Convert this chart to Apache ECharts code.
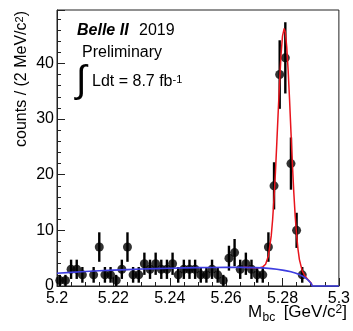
<!DOCTYPE html>
<html><head><meta charset="utf-8">
<script src="https://cdn.jsdelivr.net/npm/echarts@6/dist/echarts.min.js"></script>
<style>html,body{margin:0;padding:0;background:#fff}#c{width:353px;height:331px}</style>
</head><body><div id="c"></div>
<script>
// Histogram bin centers (GeV/c^2), 2 MeV bins
const binCenters = [5.201,5.203,5.205,5.207,5.209,5.211,5.213,5.215,5.217,5.219,
  5.221,5.223,5.225,5.227,5.229,5.231,5.233,5.235,5.237,5.239,
  5.241,5.243,5.245,5.247,5.249,5.251,5.253,5.255,5.257,5.259,
  5.261,5.263,5.265,5.267,5.269,5.271,5.273,5.275,5.277,5.279,
  5.281,5.283,5.285,5.287];
const counts = [1,1,3,3,2,null,2,7,2,2,
  1,3,7,2,2,4,3,4,3,3,
  4,2,3,3,3,2,2,3,2,1,
  5,6,3,4,3,2,2,7,18,38,
  41,22,10,2];
const errors = [1,1,1.73,1.73,1.41,null,1.41,2.65,1.41,1.41,
  1,1.73,2.65,1.41,1.41,2,1.73,2,1.73,1.73,
  2,1.41,1.73,1.73,1.73,1.41,1.41,1.73,1.41,1,
  2.24,2.45,1.73,2,1.73,1.41,1.41,2.65,4.24,6.16,
  6.4,4.69,3.16,1.41];
// Total fit (red)
const fitX = [5.266,5.270,5.272,5.273,5.274,5.275,5.276,5.2765,5.277,5.2775,5.278,5.2785,5.279,5.2795,5.280,5.2806,
  5.281,5.2815,5.282,5.2825,5.283,5.2835,5.284,5.2845,5.285,5.2855,5.286,5.287,5.288,5.289,5.2902,5.2905];
const fitY = [3.35,3.3,3.29,3.44,3.91,5.4,9.0,11.95,15.85,20.5,25.95,31.6,37.0,41.7,44.9,46.3,
  45.6,43.0,38.8,33.5,27.7,22.0,16.9,12.55,9.2,6.6,4.74,2.71,1.75,1.16,0.5,0];
// Background (blue)
const bkgX = [5.200,5.205,5.210,5.215,5.220,5.225,5.230,5.235,5.240,5.245,5.250,5.255,5.260,5.265,5.270,
  5.273,5.276,5.278,5.280,5.2815,5.283,5.2845,5.286,5.287,5.288,5.289,5.2897,5.2902,5.2905,5.300];
const bkgY = [2.3,2.45,2.6,2.73,2.85,2.95,3.05,3.13,3.2,3.25,3.3,3.33,3.35,3.35,3.3,
  3.25,3.12,3.0,2.85,2.72,2.55,2.35,2.05,1.8,1.5,1.1,0.75,0.45,0,0];
const xTicks = ['5.2','5.22','5.24','5.26','5.28','5.3'];
const yTicks = ['0','10','20','30','40'];

const FF = "'Liberation Sans', Arial, Helvetica, sans-serif";
const pts = [], bars = [];
binCenters.forEach((x, i) => {
  if (counts[i] != null) { pts.push([x, counts[i]]); bars.push([x, counts[i], errors[i]]); }
});
const chart = echarts.init(document.getElementById('c'), null, {renderer: 'canvas'});
chart.setOption({
  animation: false,
  backgroundColor: '#fff',
  grid: {left: 57, right: 13, top: 10, bottom: 45, show: true, borderColor: '#222', borderWidth: 1, backgroundColor: 'transparent'},
  xAxis: {
    type: 'value', min: 5.2, max: 5.3, interval: 0.02,
    axisLine: {show: true, lineStyle: {color: '#222', width: 1}},
    axisTick: {show: true, inside: true, length: 8, lineStyle: {color: '#222'}},
    minorTick: {show: true, splitNumber: 4, length: 4, lineStyle: {color: '#222'}},
    splitLine: {show: false},
    axisLabel: {color: '#000', fontFamily: FF, fontSize: 16, margin: 5,
      formatter: v => { const s = String(parseFloat(v.toFixed(2))); return xTicks.includes(s) ? s : ''; }}
  },
  yAxis: {
    type: 'value', min: 0, max: 49.6, interval: 10,
    axisLine: {show: true, lineStyle: {color: '#222', width: 1}},
    axisTick: {show: true, inside: true, length: 8, lineStyle: {color: '#222'}},
    minorTick: {show: true, splitNumber: 5, length: 4, lineStyle: {color: '#222'}},
    splitLine: {show: false},
    axisLabel: {color: '#000', fontFamily: FF, fontSize: 16, margin: 3,
      formatter: v => { const s = String(Math.round(v)); return (Math.abs(v - Math.round(v)) < 1e-6 && yTicks.includes(s)) ? s : ''; }}
  },
  series: [
    {type: 'custom', z: 2, data: bars, encode: {x: 0, y: 1},
      renderItem: (params, api) => {
        const x = api.value(0), y = api.value(1), e = api.value(2);
        const p1 = api.coord([x, Math.max(0, y - e)]), p2 = api.coord([x, y + e]);
        return {type: 'line', shape: {x1: p1[0], y1: p1[1], x2: p2[0], y2: p2[1]}, style: {stroke: '#000', lineWidth: 2.4}};
      }},
    {type: 'scatter', z: 3, data: pts, symbol: 'circle', symbolSize: 9, itemStyle: {color: '#000'}},
    {type: 'line', z: 4, data: fitX.map((x, i) => [x, fitY[i]]), showSymbol: false, smooth: false,
      lineStyle: {color: '#e8141c', width: 1.5}, clip: false},
    {type: 'line', z: 5, data: bkgX.map((x, i) => [x, bkgY[i]]), showSymbol: false, smooth: false,
      lineStyle: {color: '#3d3de0', width: 1.6}, clip: false}
  ],
  graphic: [
    {type: 'text', x: 77, y: 31, style: {text: 'Belle II', font: 'italic bold 16px ' + FF, fill: '#000', textVerticalAlign: 'middle'}},
    {type: 'text', x: 139, y: 31, style: {text: '2019', font: '16px ' + FF, fill: '#000', textVerticalAlign: 'middle'}},
    {type: 'text', x: 82, y: 53, style: {text: 'Preliminary', font: '16px ' + FF, fill: '#000', textVerticalAlign: 'middle'}},
    {type: 'text', x: 76, y: 82, style: {text: '\u222B', font: '38px ' + FF, fill: '#000', textVerticalAlign: 'middle'}},
    {type: 'text', x: 92, y: 82, style: {text: '{n|Ldt = 8.7 fb}{s|-1}', fill: '#000', textVerticalAlign: 'middle',
      rich: {n: {font: '16px ' + FF, fill: '#000'}, s: {font: '11px ' + FF, fill: '#000', verticalAlign: 'top'}}}},
    {type: 'text', x: 22, y: 11, rotation: Math.PI / 2, style: {text: '{n|counts / (2 MeV/c}{s|2}{n|)}', fill: '#000',
      textAlign: 'right', textVerticalAlign: 'middle',
      rich: {n: {font: '16px ' + FF, fill: '#000'}, s: {font: '11px ' + FF, fill: '#000', verticalAlign: 'top'}}}},
    {type: 'text', x: 248, y: 312, style: {text: 'M', font: '17px ' + FF, fill: '#000', textVerticalAlign: 'middle'}},
    {type: 'text', x: 262.5, y: 318, style: {text: 'bc', font: '12px ' + FF, fill: '#000', textVerticalAlign: 'middle'}},
    {type: 'text', x: 347, y: 312, style: {text: '{n|[GeV/c}{s|2}{n|]}', fill: '#000', textAlign: 'right', textVerticalAlign: 'middle',
      rich: {n: {font: '17px ' + FF, fill: '#000'}, s: {font: '12px ' + FF, fill: '#000', verticalAlign: 'top'}}}}
  ]
});
</script></body></html>
